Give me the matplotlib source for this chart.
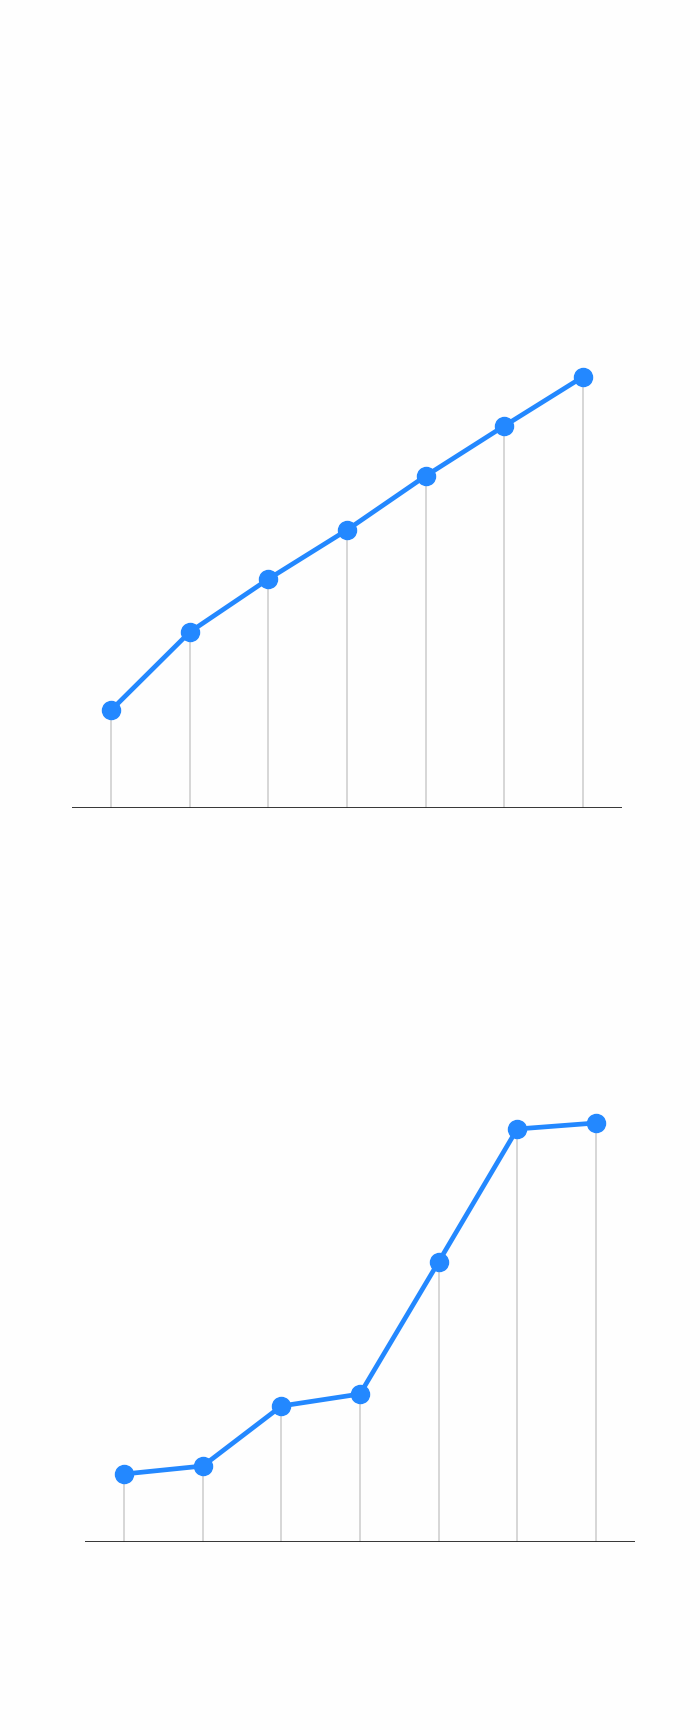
import matplotlib
matplotlib.use("Agg")
import matplotlib.pyplot as plt
import numpy as np

# two panels, 7 points each, no labels in the source
x_pos = np.arange(7)
top_vals = [9.8, 17.6, 22.9, 27.8, 33.2, 38.2, 43.1]
bottom_vals = [6.8, 7.6, 13.6, 14.8, 28.0, 41.3, 41.9]

W, H = 700, 1730
fig = plt.figure(figsize=(W / 100, H / 100), dpi=100)
fig.patch.set_facecolor("#fefefe")

blue = "#2388ff"


def panel(left, baseline, right, vals):
    # baseline in pixels from top, axes 500 px tall
    ax = fig.add_axes([left / W, (H - baseline) / H, (right - left) / W, 500 / H])
    ax.set_facecolor("none")
    ax.vlines(x_pos, 0, vals, color="#d3d3d3", lw=1.3, zorder=1)
    ax.plot(x_pos, vals, color=blue, lw=3.4, marker="o", ms=13, zorder=3,
            clip_on=False)
    ax.axhline(0, color="#222222", lw=2, zorder=2)
    ax.set_xlim(-0.5, 6.5)
    ax.set_ylim(0, 50)
    for s in ax.spines.values():
        s.set_visible(False)
    ax.set_xticks([])
    ax.set_yticks([])
    return ax


panel(72, 808, 622, top_vals)
panel(85, 1542, 635, bottom_vals)

fig.savefig("out.png", dpi=100, facecolor=fig.get_facecolor())
